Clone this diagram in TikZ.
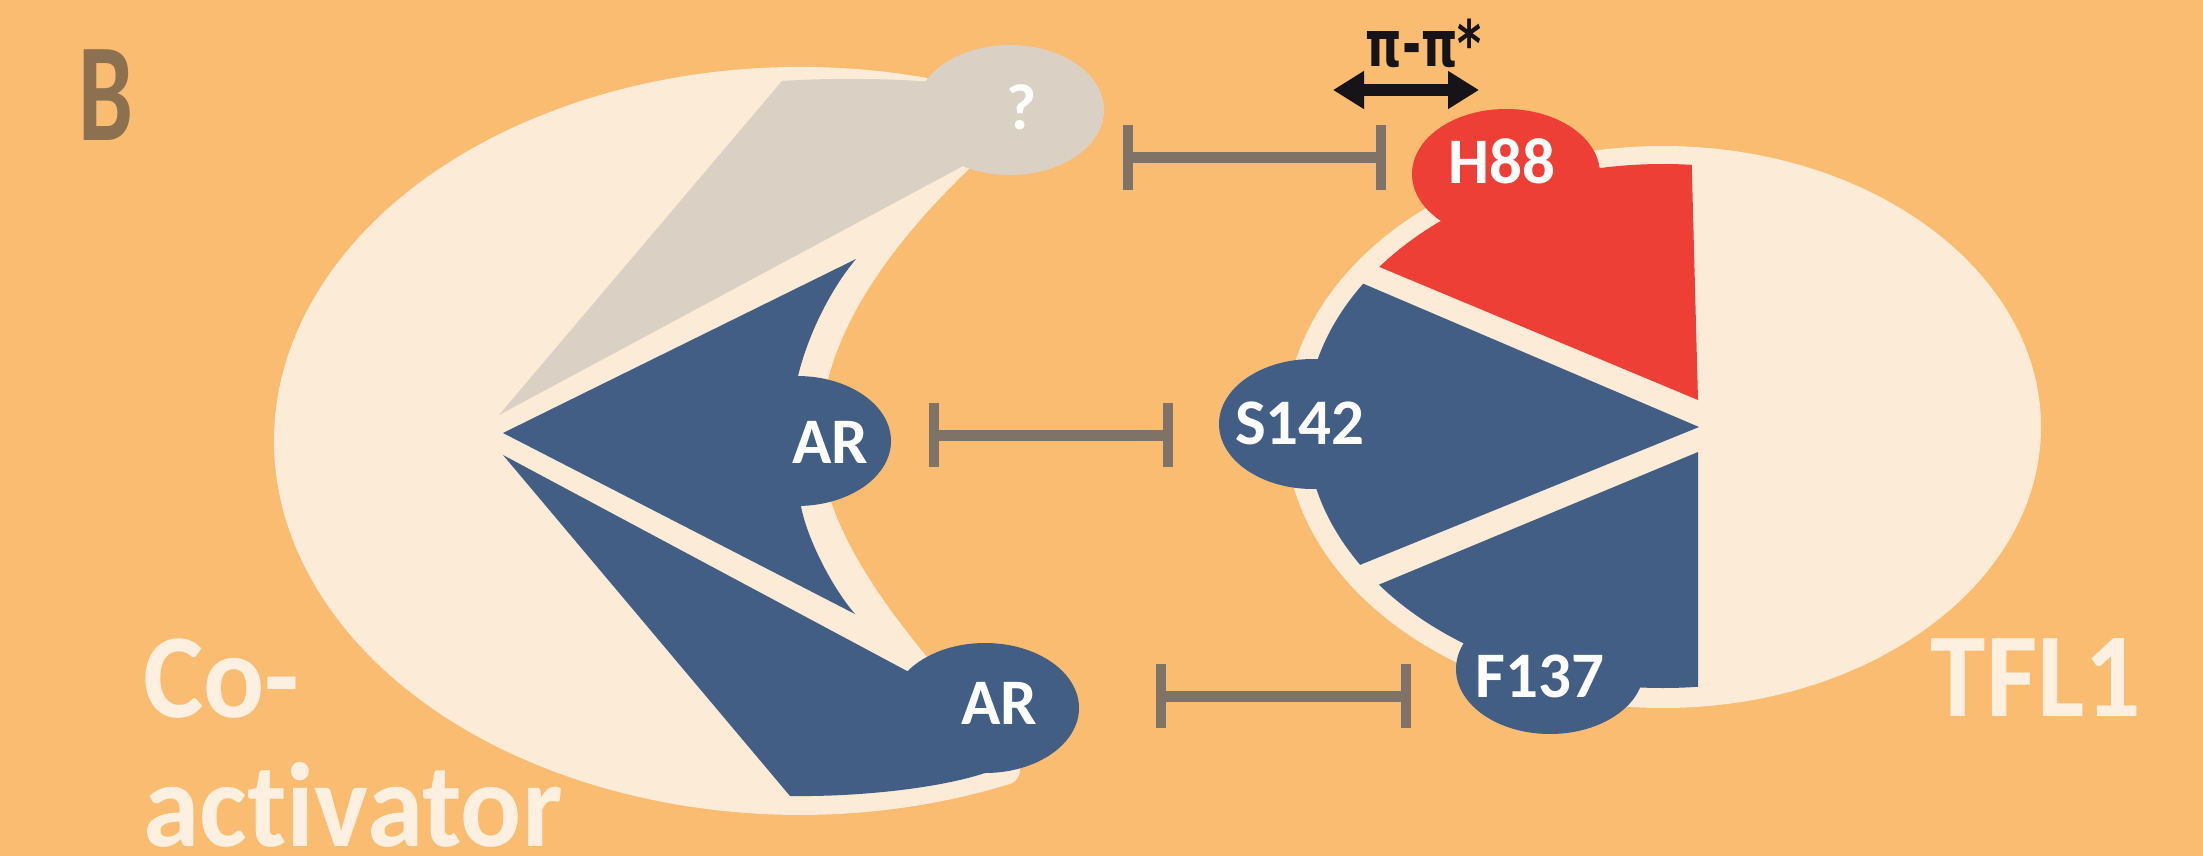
\documentclass[tikz,border=0pt]{standalone}
\usepackage{fontspec}
\setmainfont{Carlito}
\newfontfamily\labfont[Ligatures={NoCommon}]{Carlito}
\newfontfamily\pifont{DejaVu Sans}
\usetikzlibrary{arrows.meta,calc}
\definecolor{bg}{HTML}{F9BC70}
\definecolor{cream}{HTML}{FCEBD6}
\definecolor{ctext}{HTML}{FDF0E1}
\definecolor{graywedge}{HTML}{DAD0C3}
\definecolor{bluec}{HTML}{425E85}
\definecolor{redc}{HTML}{EE3F37}
\definecolor{bargray}{HTML}{7E7366}
\definecolor{brownB}{HTML}{8B7150}
\definecolor{arrowblack}{HTML}{161418}
\begin{document}
\begin{tikzpicture}[x=1pt,y=-1pt,
  lab/.style={font={\labfont\bfseries\fontsize{65}{65}\selectfont}, text=white, inner sep=0pt, anchor=base},
  big/.style={font={\labfont\bfseries\fontsize{120}{120}\selectfont}, text=ctext, inner sep=0pt},
  hbar/.style={draw=bargray, line width=11pt},
  tick/.style={draw=bargray, line width=10pt},
]
\useasboundingbox (0,0) rectangle (2203,856);
\fill[bg] (0,0) rectangle (2203,856);

% co-activator body
\fill[cream] (1000.5,95.2) arc[start angle=-67.6, end angle=-293.2, x radius=526, y radius=374]
  .. controls (1016,783) and (1021,776) .. (1020,766)
  .. controls (960,690) and (820,560) .. (820,440)
  .. controls (820,330) and (900,230) .. (1000,140) -- cycle;

% unknown partner (grey)
\fill[graywedge] (499,415) -- (782,81) .. controls (830,78) and (880,78) .. (935,82) -- (1000,110) -- (963,166) -- cycle;
\fill[graywedge] (1010,110) ellipse [x radius=94, y radius=65];

% AR wedges
\fill[bluec] (503,433) -- (856,259) .. controls (830,290) and (808,335) .. (798,376) -- (801,506) .. controls (806,535) and (830,585) .. (855,614) -- cycle;
\fill[bluec] (797,441) ellipse [x radius=94, y radius=65];
\fill[bluec] (503,455) -- (907,671) -- (985,708) -- (985,773) .. controls (940,788) and (860,797) .. (790,796) -- cycle;
\fill[bluec] (985,708) ellipse [x radius=94, y radius=65];

% TFL1 body
\fill[cream] (1663,427) ellipse [x radius=378, y radius=281];
\begin{scope}
  \clip (1663,426) ellipse [x radius=357, y radius=262];
  \fill[redc] (1698,400) -- (1200,192) -- (1200,100) -- (1690,100) -- cycle;
  \fill[bluec] (1699,427) -- (1200,214) -- (1200,630) -- cycle;
  \fill[bluec] (1698,452) -- (1200,659) -- (1200,800) -- (1698,800) -- cycle;
\end{scope}
\fill[redc] (1506,174) ellipse [x radius=94, y radius=65];
\fill[bluec] (1313,424) ellipse [x radius=94, y radius=65];
\fill[bluec] (1550,669) ellipse [x radius=94, y radius=65];

% distance bars
\coordinate (ta) at (1128,157.5);
\coordinate (tb) at (1381,157.5);
\coordinate (ma) at (934,435);
\coordinate (mb) at (1168,435);
\coordinate (ba) at (1161,696);
\coordinate (bb) at (1406,696);
\foreach \a/\b in {ta/tb, ma/mb, ba/bb} {
  \draw[hbar] (\a) -- (\b);
  \draw[tick] ($(\a)+(0,-32)$) -- ($(\a)+(0,32)$);
  \draw[tick] ($(\b)+(0,-32)$) -- ($(\b)+(0,32)$);
}

% pi-pi arrow
\coordinate (pl) at (1333,90);
\coordinate (pr) at (1479,90);
\draw[line width=12pt, arrowblack, {Triangle[length=31pt,width=36pt]}-{Triangle[length=31pt,width=36pt]}] (pl) -- (pr);
\node[font={\pifont\bfseries\fontsize{64}{64}\selectfont}, text=arrowblack, anchor=base, inner sep=0pt] (pi) at (1424,67) {\scalebox{0.72}[1]{π-π*}};

% labels
\node[lab] (q) at (1022,130) {?};
\node[lab] (ar1) at (830,463) {AR};
\node[lab] (ar2) at (999,724) {AR};
\node[lab] (h88) at (1502,183) {H88};
\node[lab] (s142) at (1300,444) {S142};
\node[lab] (f137) at (1540,697) {F137};
\node[big, anchor=base] (tfl) at (2036,716) {\scalebox{0.93}[1]{TFL1}};
\node[big, anchor=base west] (co) at (143,717) {\scalebox{0.95}[1]{Co-}};
\node[big, anchor=base west] (act) at (143,846) {\scalebox{0.95}[1]{activator}};
\node[font={\labfont\bfseries\fontsize{140}{140}\selectfont}, text=brownB, anchor=base west, inner sep=0pt] (B) at (78,140) {\scalebox{0.7}[1]{B}};
\end{tikzpicture}
\end{document}
